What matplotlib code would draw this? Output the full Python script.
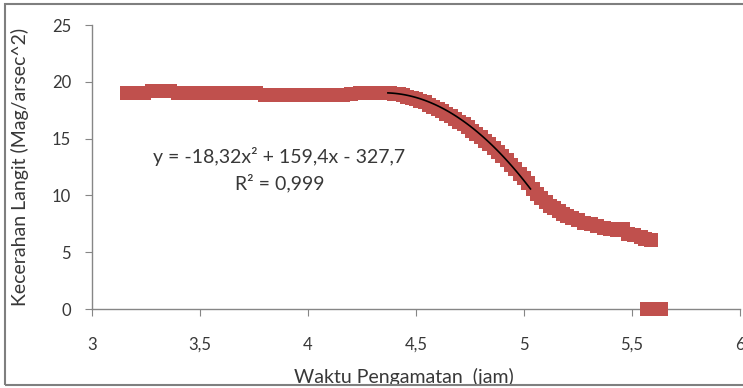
import numpy as np
import matplotlib
matplotlib.use("Agg")
import matplotlib.pyplot as plt
from matplotlib.patches import Rectangle
from matplotlib.ticker import FuncFormatter

waktu = [3.16, 3.20, 3.24, 3.28, 3.32, 3.36, 3.40, 3.44, 3.48, 3.52, 3.56, 3.60,
         3.64, 3.68, 3.72, 3.76, 3.80, 3.84, 3.88, 3.92, 3.96, 4.00, 4.04, 4.08,
         4.12, 4.16, 4.20, 4.24, 4.28, 4.32, 4.36,
         4.38, 4.40, 4.42, 4.44, 4.46, 4.48, 4.50, 4.52, 4.54, 4.56, 4.58, 4.60,
         4.62, 4.64, 4.66, 4.68, 4.70, 4.72, 4.74, 4.76, 4.78, 4.80, 4.82, 4.84,
         4.86, 4.88, 4.90, 4.92, 4.94, 4.96, 4.98, 5.00, 5.02, 5.04, 5.06, 5.08,
         5.10, 5.12, 5.14, 5.16, 5.18, 5.20, 5.22,
         5.25, 5.28, 5.31, 5.34, 5.37, 5.40, 5.43, 5.46, 5.48, 5.51, 5.54, 5.56, 5.59,
         5.57, 5.60, 5.635]
kecerahan = [19.0, 19.0, 19.0, 19.2, 19.2, 19.2, 19.0, 19.0, 19.0, 19.0, 19.0, 19.0,
             19.0, 19.0, 19.0, 19.0, 18.85, 18.85, 18.85, 18.85, 18.85, 18.85, 18.85, 18.85,
             18.85, 18.85, 18.9, 19.0, 19.0, 19.0, 19.0,
             19.0, 18.95, 18.9, 18.8, 18.7, 18.6, 18.5, 18.35, 18.2, 18.0, 17.8, 17.6,
             17.4, 17.2, 17.0, 16.75, 16.5, 16.25, 16.0, 15.7, 15.4, 15.1, 14.8, 14.5,
             14.15, 13.8, 13.45, 13.1, 12.7, 12.3, 11.9, 11.5, 11.05, 10.6, 10.15, 9.75,
             9.4, 9.1, 8.85, 8.6, 8.4, 8.2, 8.05,
             7.8, 7.6, 7.45, 7.3, 7.15, 7.0, 6.95, 7.0, 6.6, 6.5, 6.35, 6.2, 6.05,
             0.0, 0.0, 0.0]

# polynomial trendline as printed on the chart
TREND_COEF = [-18.32, 159.4, -327.7]
TREND_RANGE = (4.37, 5.03)

X_TICKS = [3, 3.5, 4, 4.5, 5, 5.5, 6]
Y_TICKS = [0, 5, 10, 15, 20, 25]

RED = "#C0504D"
GREY = "#868686"
TXT = "#383838"
FONT = "Lato"


def comma(v, pos):
    return f"{v:g}".replace(".", ",")


def main():
    plt.rcParams["font.family"] = [FONT, "DejaVu Sans"]
    plt.rcParams["font.size"] = 11.5

    fig = plt.figure(figsize=(7.43, 3.88), dpi=100)
    ax = fig.add_axes([92 / 743, 79 / 388, 648 / 743, 284 / 388])

    ax.plot(waktu, kecerahan, ls="none", marker="s", markersize=10.5,
            color=RED, markeredgewidth=0, clip_on=False)

    xt = np.linspace(*TREND_RANGE, 60)
    ax.plot(xt, np.polyval(TREND_COEF, xt), color="black", lw=1.2)

    ax.set_xlim(3, 6)
    ax.set_ylim(0, 25)
    ax.set_xticks(X_TICKS)
    ax.set_yticks(Y_TICKS)
    ax.xaxis.set_major_formatter(FuncFormatter(comma))

    for side in ["top", "right"]:
        ax.spines[side].set_visible(False)
    for side in ["left", "bottom"]:
        ax.spines[side].set_color(GREY)
        ax.spines[side].set_linewidth(1.0)
        ax.spines[side].set_zorder(0.5)

    ax.tick_params(axis="both", direction="out", length=5, color=GREY,
                   labelcolor=TXT, labelsize=12)
    ax.tick_params(axis="y", pad=10)
    ax.tick_params(axis="x", pad=15)

    ax.set_xlabel("Waktu Pengamatan  (jam)", color=TXT, fontsize=14)
    ax.set_ylabel("Kecerahan Langit (Mag/arsec^2)", color=TXT, fontsize=14)
    ax.xaxis.set_label_coords((404 - 92) / 648, (309 - 377) / 284)
    ax.yaxis.label.set_va("center")
    ax.xaxis.label.set_va("center")
    ax.yaxis.set_label_coords((20 - 92) / 648, 0.5)

    fig.text(279 / 743, 1 - 157 / 388, "y = -18,32x² + 159,4x - 327,7",
             ha="center", va="center", color=TXT, fontsize=14)
    fig.text(280 / 743, 1 - 183 / 388, "R² = 0,999",
             ha="center", va="center", color=TXT, fontsize=14)

    # outer frame (right side falls outside the picture)
    fig.patches.append(Rectangle((4.5 / 743, 3.5 / 388), 1.0, 381 / 388,
                                 transform=fig.transFigure, fill=False,
                                 edgecolor="#7f7f7f", lw=1.5))

    fig.savefig("out.png", dpi=100)
    plt.close(fig)


if __name__ == "__main__":
    main()
